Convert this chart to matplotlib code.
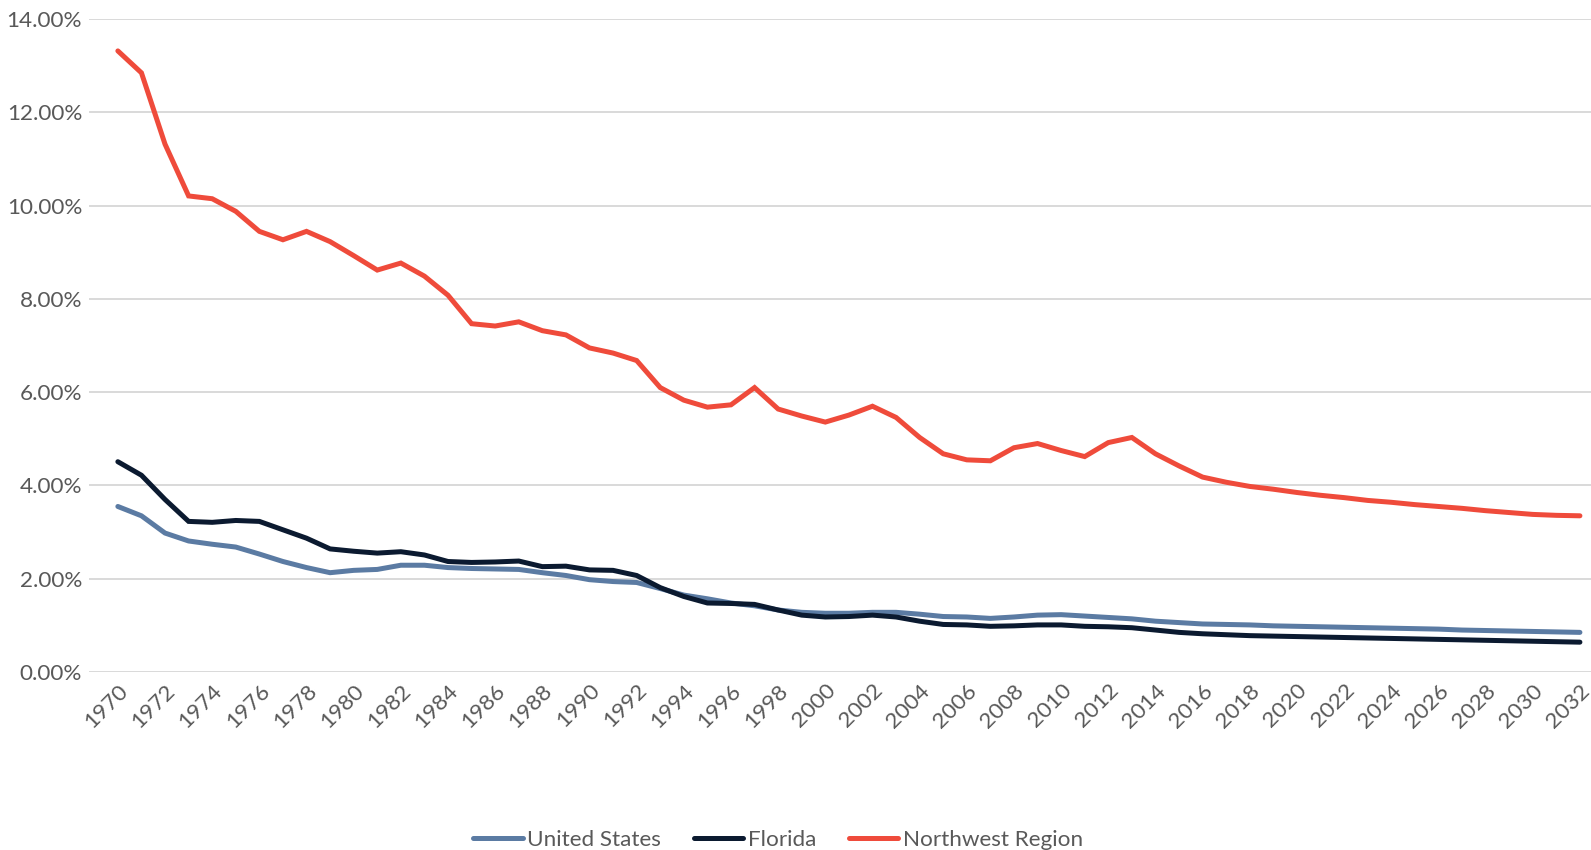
import matplotlib.pyplot as plt
from matplotlib.ticker import FuncFormatter, MultipleLocator

# data (percent)
years = list(range(1970, 2033))

united_states = [3.55, 3.35, 2.98, 2.81, 2.74, 2.68, 2.53, 2.37, 2.24, 2.13,
                 2.18, 2.20, 2.29, 2.29, 2.24, 2.22, 2.21, 2.20, 2.13, 2.07,
                 1.98, 1.94, 1.92, 1.79, 1.65, 1.57, 1.48, 1.42, 1.33, 1.28,
                 1.26, 1.26, 1.28, 1.28, 1.24, 1.19, 1.18, 1.15, 1.18, 1.22,
                 1.23, 1.20, 1.17, 1.14, 1.09, 1.06, 1.03, 1.02, 1.01, 0.99,
                 0.98, 0.97, 0.96, 0.95, 0.94, 0.93, 0.92, 0.90, 0.89, 0.88,
                 0.87, 0.86, 0.85]

florida = [4.51, 4.22, 3.70, 3.23, 3.21, 3.25, 3.23, 3.05, 2.87, 2.64,
           2.59, 2.55, 2.58, 2.51, 2.37, 2.35, 2.36, 2.38, 2.26, 2.27,
           2.19, 2.18, 2.07, 1.81, 1.62, 1.48, 1.47, 1.45, 1.33, 1.22,
           1.18, 1.19, 1.22, 1.18, 1.09, 1.02, 1.01, 0.98, 0.99, 1.01,
           1.01, 0.98, 0.97, 0.95, 0.90, 0.85, 0.82, 0.80, 0.78, 0.77,
           0.76, 0.75, 0.74, 0.73, 0.72, 0.71, 0.70, 0.69, 0.68, 0.67,
           0.66, 0.65, 0.64]

northwest = [13.32, 12.85, 11.32, 10.21, 10.15, 9.88, 9.45, 9.27, 9.45, 9.23,
             8.93, 8.62, 8.77, 8.49, 8.08, 7.47, 7.42, 7.51, 7.32, 7.23,
             6.95, 6.84, 6.68, 6.10, 5.83, 5.68, 5.73, 6.10, 5.64, 5.49,
             5.36, 5.51, 5.70, 5.46, 5.03, 4.68, 4.55, 4.53, 4.81, 4.90,
             4.75, 4.62, 4.92, 5.03, 4.68, 4.42, 4.18, 4.07, 3.98, 3.92,
             3.85, 3.79, 3.74, 3.68, 3.64, 3.59, 3.55, 3.51, 3.46, 3.42,
             3.38, 3.36, 3.35]

labels = ["United States", "Florida", "Northwest Region"]
colors = ["#5B7BA3", "#0B1A30", "#EF4B3B"]

plt.rcParams['font.family'] = ['Lato', 'DejaVu Sans']

fig = plt.figure(figsize=(15.91, 8.5), dpi=100)
ax = fig.add_axes([0.056, 0.2094, 0.944, 0.768])

for series, lab, col in zip([united_states, florida, northwest], labels, colors):
    ax.plot(years, series, color=col, lw=3.6, label=lab,
            solid_capstyle='round', solid_joinstyle='miter')

ax.set_ylim(0, 14)
ax.set_xlim(1968.78, 2032.47)
ax.yaxis.set_major_locator(MultipleLocator(2))
ax.yaxis.set_major_formatter(FuncFormatter(lambda v, p: "{:.2f}%".format(v)))
ax.set_xticks(years[::2])
ax.set_xticklabels([str(y) for y in years[::2]], rotation=45, ha='right',
                   rotation_mode='anchor')

ax.grid(axis='y', color='#D9D9D9', lw=1.4)
ax.set_axisbelow(True)
for s in ax.spines.values():
    s.set_visible(False)
ax.tick_params(axis='both', length=0, labelsize=16.2, labelcolor='#595959')
ax.tick_params(axis='y', pad=5)
ax.tick_params(axis='x', pad=6)

fig.legend(loc='lower center', ncol=3, frameon=False, fontsize=16.2,
           bbox_to_anchor=(0.489, -0.024), handlelength=2.2, handletextpad=0.2,
           columnspacing=1.45, labelcolor='#595959')

fig.savefig("out.png", dpi=100, facecolor='white')
